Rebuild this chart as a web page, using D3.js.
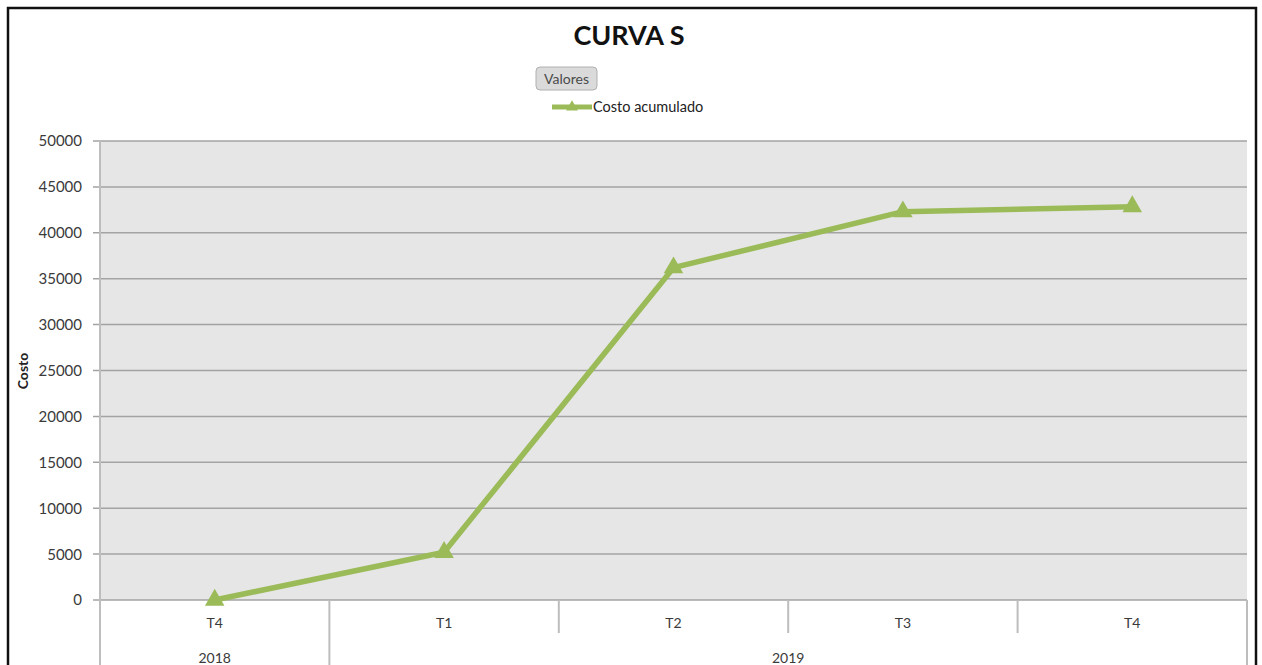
<!DOCTYPE html>
<html>
<head>
<meta charset="utf-8">
<script src="https://cdn.jsdelivr.net/npm/d3@7/dist/d3.min.js"></script>
<style>
  html, body { margin: 0; padding: 0; background: #fff; }
  svg { display: block; }
  text { font-family: Lato, "Open Sans", sans-serif; }
</style>
</head>
<body>
<svg id="chart" width="1262" height="665"></svg>
<script>
// Cumulative cost per quarter
const quarters = ["T4", "T1", "T2", "T3", "T4"];
const years = ["2018", "2019", "2019", "2019", "2019"];
const costoAcumulado = [0, 5200, 36200, 42300, 42850];
const yTicks = [0, 5000, 10000, 15000, 20000, 25000, 30000, 35000, 40000, 45000, 50000];

const W = 1262, H = 665;
const plot = { left: 100, right: 1247, top: 141, bottom: 600 };
const green = "#9bbb59";
const axisGray = "#bdbdbd";
const labelColor = "#3a3a3a";

const svg = d3.select("#chart");

// outer frame
svg.append("path")
  .attr("d", `M8,${H + 2} V8 H1256 V${H + 2}`)
  .attr("fill", "none").attr("stroke", "#111").attr("stroke-width", 2.5);

const idx = d3.range(quarters.length);
const x = d3.scaleBand().domain(idx).range([plot.left, plot.right]);
const y = d3.scaleLinear().domain([0, 50000]).range([plot.bottom, plot.top]);

// plot background
svg.append("rect")
  .attr("x", plot.left).attr("y", plot.top)
  .attr("width", plot.right - plot.left).attr("height", plot.bottom - plot.top)
  .attr("fill", "#e6e6e6");

// gridlines
svg.append("g").selectAll("line").data(yTicks).join("line")
  .attr("x1", plot.left - 7).attr("x2", plot.right)
  .attr("y1", d => y(d)).attr("y2", d => y(d))
  .attr("stroke", "#a3a3a3").attr("stroke-width", 1.5);

// y axis labels
svg.append("g").selectAll("text").data(yTicks).join("text")
  .attr("x", 82).attr("y", d => y(d)).attr("dy", "0.36em")
  .attr("text-anchor", "end").attr("font-size", 15).attr("fill", labelColor)
  .text(d => d);

// y axis title
svg.append("text")
  .attr("transform", "translate(28,371) rotate(-90)")
  .attr("text-anchor", "middle").attr("font-size", 14).attr("font-weight", "bold")
  .attr("fill", "#222").text("Costo");

// left and right axis lines
svg.append("line")
  .attr("x1", plot.left).attr("x2", plot.left).attr("y1", plot.top).attr("y2", H)
  .attr("stroke", axisGray).attr("stroke-width", 2);
svg.append("line")
  .attr("x1", plot.right).attr("x2", plot.right).attr("y1", plot.bottom).attr("y2", H)
  .attr("stroke", axisGray).attr("stroke-width", 2);

// separators between quarters; year boundaries run to the bottom
svg.append("g").selectAll("line").data(idx.slice(1)).join("line")
  .attr("x1", d => x(d)).attr("x2", d => x(d))
  .attr("y1", plot.bottom)
  .attr("y2", d => years[d] !== years[d - 1] ? H : 633)
  .attr("stroke", axisGray).attr("stroke-width", 2);

// quarter labels
svg.append("g").selectAll("text").data(idx).join("text")
  .attr("x", d => x(d) + x.bandwidth() / 2).attr("y", 628)
  .attr("text-anchor", "middle").attr("font-size", 14).attr("fill", labelColor)
  .text(d => quarters[d]);

// year labels centred on their span
const yearGroups = d3.groups(idx, d => years[d]);
svg.append("g").selectAll("text").data(yearGroups).join("text")
  .attr("x", g => (x(g[1][0]) + x(g[1][g[1].length - 1]) + x.bandwidth()) / 2)
  .attr("y", 663)
  .attr("text-anchor", "middle").attr("font-size", 14).attr("fill", labelColor)
  .text(g => g[0]);

// series line
const line = d3.line().x(d => x(d) + x.bandwidth() / 2).y(d => y(costoAcumulado[d]));
svg.append("path").datum(idx)
  .attr("d", line).attr("fill", "none")
  .attr("stroke", green).attr("stroke-width", 5.5).attr("stroke-linejoin", "round");

// triangle markers
const tri = d3.symbol().type(d3.symbolTriangle).size(165);
svg.append("g").selectAll("path").data(idx).join("path")
  .attr("d", tri)
  .attr("transform", d => `translate(${x(d) + x.bandwidth() / 2},${y(costoAcumulado[d])})`)
  .attr("fill", green);

// title
svg.append("text")
  .attr("x", 629).attr("y", 45).attr("text-anchor", "middle")
  .attr("font-size", 27).attr("font-weight", "bold").attr("fill", "#111")
  .text("CURVA S");

// field button
svg.append("rect")
  .attr("x", 536).attr("y", 67).attr("width", 61).attr("height", 23).attr("rx", 4)
  .attr("fill", "#dadada").attr("stroke", "#b0b0b0");
svg.append("text")
  .attr("x", 566.5).attr("y", 84).attr("text-anchor", "middle")
  .attr("font-size", 14).attr("fill", "#4a4a4a").text("Valores");

// legend
svg.append("line")
  .attr("x1", 552).attr("x2", 592).attr("y1", 107).attr("y2", 107)
  .attr("stroke", green).attr("stroke-width", 5);
svg.append("path").attr("d", d3.symbol().type(d3.symbolTriangle).size(60))
  .attr("transform", "translate(572,107)").attr("fill", green);
svg.append("text")
  .attr("x", 593).attr("y", 111.5)
  .attr("font-size", 14.5).attr("fill", "#222").text("Costo acumulado");
</script>
</body>
</html>
